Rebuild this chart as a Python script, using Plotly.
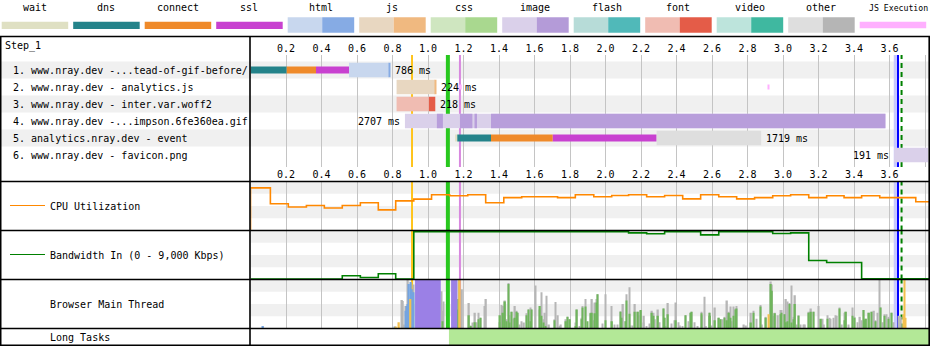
import plotly.graph_objects as go

W, H = 930, 346
T0_PX = 250.5          # pixel where t = 0
PX_PER_S = 177.5       # pixels per second
T_MAX = (W - T0_PX) / PX_PER_S
FONT = "DejaVu Sans Mono"


def px(x):
    return x / W


def py(y):
    return 1 - y / H


# ---------------- legend ----------------
legend_names = ["wait", "dns", "connect", "ssl", "html", "js", "css", "image",
                "flash", "font", "video", "other", "JS Execution"]
legend_light = ["#dfe0c3", "#24838a", "#ef8a2a", "#c841d0", "#c8d7ee", "#e8d7c1",
                "#cfe6c0", "#dad0ea", "#b7dcd8", "#f0bcb2", "#bde4dc", "#dedede", "#ffb0ff"]
legend_dark = [None, None, None, None, "#86abe4", "#f0b980", "#a9d88f", "#b49bd8",
               "#50b9b9", "#e45c48", "#3fb8a0", "#b5b5b5", None]

# ---------------- axis ticks ----------------
tick_vals = [0.2, 0.4, 0.6, 0.8, 1.0, 1.2, 1.4, 1.6, 1.8, 2.0, 2.2, 2.4, 2.6,
             2.8, 3.0, 3.2, 3.4, 3.6, 3.8]
tick_text = [f"{v:.1f}" for v in tick_vals]

# ---------------- requests ----------------
req_labels = ["1. www.nray.dev -...tead-of-gif-before/",
              "2. www.nray.dev - analytics.js",
              "3. www.nray.dev - inter.var.woff2",
              "4. www.nray.dev -...impson.6fe360ea.gif",
              "5. analytics.nray.dev - event",
              "6. www.nray.dev - favicon.png"]
req_type = ["html", "js", "font", "image", "other", "image"]
req_ms = [786, 224, 218, 2707, 1719, 191]
wait_times = [None, None, None, None, (1.153, 1.165), None]
dns_times = [(0.0, 0.204), None, None, None, (1.165, 1.355), None]
connect_times = [(0.204, 0.369), None, None, None, (1.355, 1.703), None]
ssl_times = [(0.369, 0.555), None, None, None, (1.703, 2.288), None]
ttfb_times = [(0.555, 0.780), (0.823, 1.040), (0.823, 1.005), (0.870, 3.577),
              (2.288, 2.877), (3.626, 3.817)]
download_times = [[(0.780, 0.786)], [(1.040, 1.047)], [(1.005, 1.041)],
                  [(1.050, 1.084), (1.180, 1.250), (1.265, 1.276), (1.355, 3.577)],
                  [], []]
js_exec_row = [2, 2]
js_exec_start = [1.172, 2.918]
js_exec_end = [1.190, 2.924]

# ---------------- page events ----------------
event_times = [0.910, 1.112, 1.180, 3.648, 3.668]
event_colors = ["#ffc41a", "#28c81e", "#d888df", "#0000ff", "#008000"]
event_widths = [2, 4, 2, 2, 2]
event_dash = ["solid", "solid", "solid", "solid", "5px,4px"]
onload_start, onload_end = 3.624, 3.642

# ---------------- CPU ----------------
cpu_t = [0.0, 0.112, 0.213, 0.315, 0.416, 0.517, 0.619, 0.720, 0.818, 0.920, 1.020,
         1.122, 1.224, 1.325, 1.427, 1.528, 1.630, 1.730, 1.830, 1.934, 2.035, 2.130,
         2.232, 2.333, 2.435, 2.536, 2.638, 2.739, 2.840, 2.942, 3.043, 3.145, 3.246,
         3.344, 3.443, 3.545, 3.646, 3.748]
cpu_v = [87, 54.5, 48, 51, 46, 51, 56.5, 42, 60.5, 64, 73, 71, 73, 56.5, 67, 69, 69,
         67, 73, 69, 71.4, 73, 69, 71.4, 64.6, 73, 69, 64.6, 67, 71, 73, 67, 71, 67,
         71, 67, 67, 58.6]

# ---------------- Bandwidth ----------------
bw_t = [0.0, 0.517, 0.619, 0.720, 0.818, 0.920, 2.130, 2.232, 2.333, 2.536, 2.638,
        2.942, 3.043, 3.145, 3.246, 3.443]
bw_v = [100, 680, 370, 1045, 100, 8800, 8570, 8390, 8800, 8200, 8800, 8450, 8570,
        3490, 3120, 120]

# ---------------- Main thread (% busy per slice) ----------------
mt_other_t = [0.854, 0.859, 0.865, 0.876, 0.882, 0.887, 0.917, 1.077, 1.083, 1.088,
              1.165, 1.171, 1.192, 1.231, 1.242, 1.250, 1.265, 1.276, 1.284, 1.297,
              1.321, 1.327, 1.406, 1.415, 1.423, 1.434, 1.443, 1.453, 1.458, 1.471,
              1.481, 1.490, 1.498, 1.505, 1.515, 1.528, 1.541, 1.556, 1.565, 1.579,
              1.584, 1.605, 1.631, 1.640, 1.650, 1.659, 1.663, 1.667, 1.682, 1.712,
              1.717, 1.732, 1.742, 1.749, 1.778, 1.785, 1.800, 1.834, 1.839, 1.855,
              1.866, 1.871, 1.887, 1.917, 1.924, 1.933, 1.941, 1.950, 1.954, 1.982,
              1.999, 2.033, 2.050, 2.067, 2.084, 2.089, 2.099, 2.116, 2.118, 2.134,
              2.140, 2.151, 2.166, 2.183, 2.185, 2.200, 2.215, 2.217, 2.230, 2.247,
              2.262, 2.270, 2.279, 2.296, 2.303, 2.328, 2.333, 2.339, 2.352, 2.371,
              2.388, 2.397, 2.410, 2.420, 2.433, 2.452, 2.469, 2.480, 2.486, 2.501,
              2.518, 2.540, 2.544, 2.557, 2.566, 2.585, 2.589, 2.600, 2.617, 2.639,
              2.647, 2.660, 2.670, 2.685, 2.696, 2.703, 2.711, 2.720, 2.732, 2.739,
              2.780, 2.792, 2.820, 2.833, 2.850, 2.872, 2.882, 2.904, 2.932, 2.938,
              2.946, 2.955, 2.972, 2.985, 2.993, 3.009, 3.017, 3.024, 3.036, 3.049,
              3.058, 3.068, 3.079, 3.086, 3.098, 3.115, 3.124, 3.146, 3.158, 3.171,
              3.199, 3.214, 3.222, 3.231, 3.250, 3.261, 3.269, 3.284, 3.297, 3.304,
              3.317, 3.332, 3.349, 3.355, 3.368, 3.391, 3.402, 3.419, 3.434, 3.443,
              3.453, 3.460, 3.468, 3.485, 3.500, 3.513, 3.522, 3.532, 3.543, 3.550,
              3.563, 3.571, 3.584, 3.594, 3.612, 3.624, 3.654, 3.665]
mt_other_v = [58, 56, 8, 46, 32, 100, 90, 76, 36, 55,
              60, 100, 80, 52, 6, 12, 32, 13, 32, 22,
              46, 60, 13, 48, 46, 57, 19, 93, 27, 34,
              20, 46, 36, 32, 8, 15, 12, 31, 39, 43,
              39, 88, 39, 74, 19, 32, 8, 67, 8, 19,
              54, 27, 5, 8, 19, 24, 19, 12, 39, 5,
              22, 46, 60, 32, 60, 17, 53, 60, 70, 10,
              70, 46, 8, 8, 35, 22, 50, 15, 70, 84,
              6, 6, 50, 34, 27, 36, 12, 26, 5, 10,
              36, 32, 19, 39, 13, 41, 22, 5, 52, 10,
              17, 53, 13, 6, 5, 27, 15, 32, 34, 13,
              5, 34, 27, 65, 5, 32, 26, 6, 43, 22,
              19, 19, 24, 57, 34, 45, 15, 45, 41, 46,
              8, 6, 32, 36, 20, 48, 8, 24, 96, 90,
              26, 32, 27, 38, 38, 29, 60, 55, 52, 88,
              24, 68, 8, 27, 8, 8, 8, 34, 41, 34,
              46, 19, 20, 8, 27, 22, 20, 22, 27, 26,
              43, 8, 32, 34, 8, 43, 24, 13, 24, 17,
              38, 19, 20, 32, 34, 36, 17, 32, 100, 43,
              13, 29, 29, 24, 32, 13, 26, 24]
mt_paint_t = [1.083, 1.165, 1.171, 1.231, 1.242, 1.265, 1.284, 1.297, 1.406, 1.423,
              1.434, 1.443, 1.453, 1.458, 1.471, 1.490, 1.498, 1.505, 1.556, 1.565,
              1.579, 1.584, 1.631, 1.640, 1.650, 1.663, 1.712, 1.778, 1.785, 1.800,
              1.834, 1.839, 1.866, 1.871, 1.887, 1.900, 1.917, 1.924, 1.941, 1.950,
              1.954, 1.999, 2.037, 2.084, 2.089, 2.116, 2.118, 2.134, 2.166, 2.183,
              2.200, 2.262, 2.270, 2.296, 2.328, 2.333, 2.352, 2.397, 2.452, 2.480,
              2.486, 2.540, 2.585, 2.589, 2.617, 2.639, 2.647, 2.670, 2.685, 2.696,
              2.703, 2.720, 2.732, 2.739, 2.820, 2.833, 2.872, 2.904, 2.932, 2.938,
              2.955, 2.985, 2.993, 3.009, 3.017, 3.024, 3.036, 3.049, 3.058, 3.068,
              3.086, 3.146, 3.158, 3.171, 3.214, 3.250, 3.317, 3.349, 3.355, 3.391,
              3.402, 3.453, 3.460, 3.468, 3.485, 3.500, 3.522, 3.550, 3.571, 3.594,
              3.612]
mt_paint_v = [15, 39, 60, 27, 5, 13, 19, 22, 27, 32,
              55, 15, 91, 12, 34, 22, 34, 32, 27, 39,
              15, 39, 46, 26, 12, 5, 17, 15, 24, 19,
              5, 39, 19, 43, 45, 15, 31, 32, 31, 53,
              70, 17, 15, 34, 22, 15, 57, 30, 34, 34,
              38, 32, 26, 26, 41, 22, 29, 17, 27, 32,
              34, 31, 32, 26, 17, 22, 19, 22, 17, 32,
              22, 26, 39, 41, 12, 32, 45, 22, 91, 77,
              31, 29, 32, 29, 13, 15, 50, 12, 19, 50,
              26, 32, 34, 34, 20, 20, 41, 17, 34, 26,
              22, 38, 17, 20, 32, 34, 15, 43, 26, 20,
              32]
mt_parse_t = [0.071, 0.814, 0.876, 0.882, 0.887, 0.893, 0.904, 0.910, 0.914, 0.917]
mt_parse_v = [5, 3, 36, 46, 50, 91, 95, 80, 74, 74]
mt_script_t = [0.820, 0.837, 0.900, 1.177, 2.921, 3.679, 3.684, 3.690]
mt_script_v = [3, 13, 60, 100, 29, 29, 100, 22]
mt_script_w = [0.008, 0.008, 0.012, 0.0135, 0.008, 0.012, 0.005, 0.008]
mt_layout_start = [0.927, 1.130]
mt_layout_end = [1.072, 1.165]
mt_layout_v = [100, 100]

# ---------------- Long tasks ----------------
lt_start = [1.118]
lt_end = [3.830]

# ---------------- colours ----------------
phase_colors = {"wait": "#dfe0c3", "dns": "#24838a", "connect": "#ef8a2a", "ssl": "#c841d0"}
type_light = {"html": "#c8d7ee", "js": "#e8d7c1", "font": "#f0bcb2",
              "image": "#dad0ea", "other": "#dedede"}
type_dark = {"html": "#86abe4", "js": "#f0b980", "font": "#e45c48",
             "image": "#b89edb", "other": "#b5b5b5"}
CPU_COLOR = "#ff8800"
BW_COLOR = "#008000"
MT_OTHER = "#b6b6b6"
MT_PAINT = "#6fb55c"
MT_PARSE = "#74a4e0"
MT_SCRIPT = "#f4c04e"
MT_LAYOUT = "#9b80e6"
LT_COLOR = "#b3e897"
JS_EXEC = "#ffb0ff"
GRID = "#c4c4c4"
STRIPE = "#f0f0f0"

THIN, THICK = 0.40, 0.84

fig = go.Figure()


def hbar(rows, starts, ends, colors, width, xa="x", ya="y"):
    fig.add_trace(go.Bar(orientation="h", y=rows, base=starts,
                         x=[e - s for s, e in zip(starts, ends)],
                         width=width, marker=dict(color=colors, line=dict(width=0)),
                         xaxis=xa, yaxis=ya, hoverinfo="skip", showlegend=False))


# connection phases
for phase, data in [("wait", wait_times), ("dns", dns_times),
                    ("connect", connect_times), ("ssl", ssl_times)]:
    rows, s, e = [], [], []
    for i, seg in enumerate(data):
        if seg:
            rows.append(i + 1); s.append(seg[0]); e.append(seg[1])
    hbar(rows, s, e, phase_colors[phase], THIN)

# request (ttfb) light part
hbar([i + 1 for i in range(6)], [t[0] for t in ttfb_times], [t[1] for t in ttfb_times],
     [type_light[t] for t in req_type], THICK)
# download chunks
rows, s, e, c = [], [], [], []
for i, segs in enumerate(download_times):
    for a, b in segs:
        rows.append(i + 1); s.append(a); e.append(b); c.append(type_dark[req_type[i]])
hbar(rows, s, e, c, THICK)
# JS execution
hbar(js_exec_row, js_exec_start, js_exec_end, JS_EXEC, 0.3)

# invisible trace for the top axis
fig.add_trace(go.Scatter(x=[0.5], y=[-5], xaxis="x2", yaxis="y", mode="markers",
                         marker=dict(size=1, opacity=0), hoverinfo="skip", showlegend=False))

# CPU
fig.add_trace(go.Scatter(x=[0.0] + cpu_t + [T_MAX + 0.1], y=[0] + cpu_v + [cpu_v[-1]],
                         mode="lines", line=dict(color=CPU_COLOR, width=1.6, shape="hv"),
                         xaxis="x3", yaxis="y2", hoverinfo="skip", showlegend=False))
# Bandwidth
fig.add_trace(go.Scatter(x=bw_t + [T_MAX + 0.1], y=bw_v + [bw_v[-1]],
                         mode="lines", line=dict(color=BW_COLOR, width=1.6, shape="hv"),
                         xaxis="x4", yaxis="y3", hoverinfo="skip", showlegend=False))


def vbar(t, v, color, width):
    fig.add_trace(go.Bar(x=t, y=v, width=width, marker=dict(color=color, line=dict(width=0)),
                         xaxis="x5", yaxis="y4", hoverinfo="skip", showlegend=False))


vbar(mt_other_t, mt_other_v, MT_OTHER, 0.0085)
vbar(mt_paint_t, mt_paint_v, MT_PAINT, 0.0085)
vbar(mt_parse_t, mt_parse_v, MT_PARSE, 0.0085)
vbar(mt_script_t, mt_script_v, MT_SCRIPT, mt_script_w)
vbar([(a + b) / 2 for a, b in zip(mt_layout_start, mt_layout_end)], mt_layout_v, MT_LAYOUT,
     [b - a for a, b in zip(mt_layout_start, mt_layout_end)])

# Long tasks
hbar([0.5] * len(lt_start), lt_start, lt_end, LT_COLOR, 1.0, xa="x6", ya="y5")

# ---------------- layout ----------------
xdom = [px(T0_PX), 1]
tickfont = dict(family=FONT, size=10, color="#000")
common_x = dict(domain=xdom, range=[0, T_MAX], tickvals=tick_vals, ticktext=tick_text,
                zeroline=False, showline=False, ticks="", fixedrange=True, automargin=False)
common_y = dict(showgrid=False, zeroline=False, showticklabels=False, ticks="",
                showline=False, fixedrange=True, automargin=False)

WF_TOP, WF_BOT = 55, 167


def row_val(p):
    return 1 + (p - 70) / 17.0


layout = dict(
    width=W, height=H, autosize=False, margin=dict(l=0, r=0, t=0, b=0),
    paper_bgcolor="white", plot_bgcolor="rgba(0,0,0,0)", barmode="overlay",
    showlegend=False,
    xaxis=dict(**common_x, anchor="y", side="bottom", showgrid=True, gridcolor=GRID,
               gridwidth=1, tickfont=tickfont, showticklabels=True),
    xaxis2=dict(**common_x, anchor="y", side="top", overlaying="x", matches="x",
                showgrid=False, tickfont=tickfont, showticklabels=True),
    xaxis3=dict(**common_x, anchor="y2", showgrid=True, gridcolor=GRID, showticklabels=False),
    xaxis4=dict(**common_x, anchor="y3", showgrid=True, gridcolor=GRID, showticklabels=False),
    xaxis5=dict(**common_x, anchor="y4", showgrid=True, gridcolor=GRID, showticklabels=False),
    xaxis6=dict(**common_x, anchor="y5", showgrid=False, showticklabels=False),
    yaxis=dict(**common_y, domain=[py(WF_BOT), py(WF_TOP)],
               range=[row_val(WF_BOT), row_val(WF_TOP)], anchor="x"),
    yaxis2=dict(**common_y, domain=[py(230.5), py(181.5)], range=[0, 100], anchor="x3"),
    yaxis3=dict(**common_y, domain=[py(279.5), py(230.5)], range=[0, 9000], anchor="x4"),
    yaxis4=dict(**common_y, domain=[py(328.5), py(279.5)], range=[0, 100], anchor="x5"),
    yaxis5=dict(**common_y, domain=[py(345), py(328.5)], range=[0, 1], anchor="x6"),
)
fig.update_layout(**layout)

shapes = []
annotations = []

# alternating row backgrounds
for r in range(1, 7, 2):
    shapes.append(dict(type="rect", xref="paper", yref="paper", x0=0, x1=1,
                       y0=py(70 + (r - 1) * 17 + 8.5), y1=py(70 + (r - 1) * 17 - 8.5),
                       fillcolor=STRIPE, line=dict(width=0), layer="below"))
# stripes in the lower graphs
for top, bot in [(181.5, 230.5), (230.5, 279.5), (279.5, 328.5)]:
    q = (bot - top) / 4
    for a, b in [(top, top + q), (top + 2 * q, top + 3 * q)]:
        shapes.append(dict(type="rect", xref="paper", yref="paper", x0=px(T0_PX), x1=1,
                           y0=py(b), y1=py(a), fillcolor=STRIPE, line=dict(width=0),
                           layer="below"))

# event lines
for xa, ya in [("x", "y"), ("x3", "y2"), ("x4", "y3"), ("x5", "y4")]:
    shapes.append(dict(type="rect", xref=xa, yref=f"{ya} domain", x0=onload_start,
                       x1=onload_end, y0=0, y1=1, fillcolor="#c8c8ff", line=dict(width=0),
                       layer="below"))
    for t, c, w, d in zip(event_times, event_colors, event_widths, event_dash):
        shapes.append(dict(type="line", xref=xa, yref=f"{ya} domain", x0=t, x1=t, y0=0, y1=1,
                           line=dict(color=c, width=w, dash=d), layer="below"))

# frame lines
for y in [36.5, 181.5, 230.5, 279.5, 328.5, 345.2]:
    shapes.append(dict(type="line", xref="paper", yref="paper", x0=0, x1=1, y0=py(y), y1=py(y),
                       line=dict(color="#000", width=1.6), layer="above"))
for x in [0.7, T0_PX - 0.5, 929.2]:
    shapes.append(dict(type="line", xref="paper", yref="paper", x0=px(x), x1=px(x),
                       y0=py(36.5), y1=py(345.2), line=dict(color="#000", width=1.6),
                       layer="above"))

# left legend lines
shapes.append(dict(type="line", xref="paper", yref="paper", x0=px(10), x1=px(45),
                   y0=py(205.5), y1=py(205.5), line=dict(color=CPU_COLOR, width=1.2),
                   layer="above"))
shapes.append(dict(type="line", xref="paper", yref="paper", x0=px(10), x1=px(45),
                   y0=py(254.5), y1=py(254.5), line=dict(color=BW_COLOR, width=1.2),
                   layer="above"))

# top legend
for i, name in enumerate(legend_names):
    x0 = 1.7 + 71.5 * i
    x1 = x0 + 66.5
    if legend_dark[i] is None:
        y0, y1 = 21.7, (29 if name != "JS Execution" else 28.3)
        shapes.append(dict(type="rect", xref="paper", yref="paper", x0=px(x0), x1=px(x1),
                           y0=py(y1), y1=py(y0), fillcolor=legend_light[i],
                           line=dict(width=0), layer="above"))
    else:
        xm = x0 + 34.5
        shapes.append(dict(type="rect", xref="paper", yref="paper", x0=px(x0), x1=px(xm),
                           y0=py(32.7), y1=py(17.3), fillcolor=legend_light[i],
                           line=dict(width=0), layer="above"))
        shapes.append(dict(type="rect", xref="paper", yref="paper", x0=px(xm), x1=px(x1),
                           y0=py(32.7), y1=py(17.3), fillcolor=legend_dark[i],
                           line=dict(width=0), layer="above"))
    is_js = name == "JS Execution"
    cx = 898 if is_js else x0 + 33
    annotations.append(dict(text=name, xref="paper", yref="paper", x=px(cx), y=py(8),
                            xanchor="center", yanchor="middle", showarrow=False,
                            font=dict(family=FONT, size=8.2 if is_js else 10, color="#000")))

# left labels
annotations.append(dict(text="Step_1", xref="paper", yref="paper", x=px(3), y=py(46),
                        xanchor="left", yanchor="middle", showarrow=False,
                        font=dict(family=FONT, size=10, color="#000")))
for i, lab in enumerate(req_labels):
    annotations.append(dict(text=lab, xref="paper", yref="y", x=px(11), y=i + 1,
                            xanchor="left", yanchor="middle", showarrow=False,
                            font=dict(family=FONT, size=10, color="#000")))
for lab, y in [("CPU Utilization", 206), ("Bandwidth In (0 - 9,000 Kbps)", 255),
               ("Browser Main Thread", 304), ("Long Tasks", 337)]:
    annotations.append(dict(text=lab, xref="paper", yref="paper", x=px(48), y=py(y),
                            xanchor="left", yanchor="middle", showarrow=False,
                            font=dict(family=FONT, size=10, color="#000")))

# duration labels
for i in range(6):
    segs = [s for s in [wait_times[i], dns_times[i], connect_times[i], ssl_times[i],
                        ttfb_times[i]] if s] + download_times[i]
    start = min(s[0] for s in segs)
    end = max(s[1] for s in segs)
    txt = f"{req_ms[i]} ms"
    if end > 0.8 * T_MAX:
        annotations.append(dict(text=txt, xref="x", yref="y", x=start, y=i + 1,
                                xanchor="right", yanchor="middle", xshift=-3,
                                showarrow=False, font=dict(family=FONT, size=10, color="#000")))
    else:
        annotations.append(dict(text=txt, xref="x", yref="y", x=end, y=i + 1,
                                xanchor="left", yanchor="middle", xshift=3,
                                showarrow=False, font=dict(family=FONT, size=10, color="#000")))

fig.update_layout(shapes=shapes, annotations=annotations)
fig.write_html("out.html")
